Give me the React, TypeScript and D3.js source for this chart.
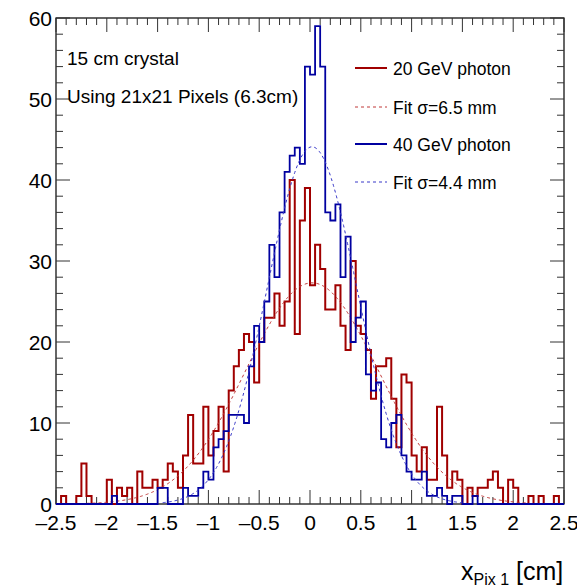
import React, { useEffect } from 'react';
import * as d3 from 'd3';

const X_MIN = -2.5;
const X_MAX = 2.5;
const N_BINS = 100;
const Y_MAX = 60;

const red20GeV = [
  0, 1, 0, 0, 1, 5, 1, 0, 0, 0,
  3, 0, 2, 1, 2, 0, 4, 2, 2, 3,
  2, 3, 5, 4, 2, 6, 11, 5, 5, 12,
  6, 9, 12, 4, 14, 17, 19, 21, 20, 15,
  20, 23, 23, 26, 22, 25, 40, 21, 35, 39,
  27, 32, 29, 24, 24, 27, 22, 19, 30, 22,
  21, 19, 13, 17, 17, 18, 13, 7, 16, 15,
  6, 4, 7, 3, 3, 12, 6, 2, 4, 3,
  0, 2, 1, 2, 2, 3, 4, 2, 0, 3,
  2, 0, 0, 1, 0, 1, 0, 0, 1, 0,
];

const blue40GeV = [
  0, 0, 0, 0, 0, 0, 0, 0, 0, 0,
  0, 1, 0, 0, 0, 0, 0, 0, 0, 0,
  2, 2, 0, 0, 0, 2, 1, 1, 2, 4,
  3, 7, 8, 9, 11, 11, 11, 10, 17, 22,
  20, 25, 32, 28, 36, 41, 43, 44, 42, 54,
  53, 59, 54, 36, 35, 37, 28, 33, 20, 23,
  25, 16, 14, 15, 8, 7, 10, 11, 6, 4,
  3, 3, 4, 1, 1, 2, 1, 0, 1, 1,
  0, 0, 1, 0, 0, 0, 0, 0, 0, 0,
  0, 0, 0, 0, 0, 0, 0, 0, 0, 0,
];

// Gaussian fit parameters [amplitude, mean (cm), sigma (cm)] and drawn range
const fitRed = [27.3, 0.02, 0.65];
const fitBlue = [44.1, 0.02, 0.44];
const fitRedRange = [-2.2, 2.15];
const fitBlueRange = [-1.45, 1.5];

const xMajorTicks = [-2.5, -2, -1.5, -1, -0.5, 0, 0.5, 1, 1.5, 2, 2.5];
const xTickLabels = ['\u20132.5', '\u20132', '\u20131.5', '\u20131', '\u20130.5', '0', '0.5', '1', '1.5', '2', '2.5'];
const yMajorTicks = [0, 10, 20, 30, 40, 50, 60];

const legendLabels = ['20 GeV photon', 'Fit \u03c3=6.5 mm', '40 GeV photon', 'Fit \u03c3=4.4 mm'];
const infoTexts = ['15 cm crystal', 'Using 21x21 Pixels (6.3cm)'];

const RED = '#a00000';
const BLUE = '#0000a0';
const RED_FIT = '#c03838';
const BLUE_FIT = '#3838c8';
const FONT = '"Liberation Sans", Arial, Helvetica, sans-serif';

export default function App() {
  useEffect(() => {
    document.body.style.margin = '0';
  }, []);

  const W = 577;
  const H = 587;
  const left = 56, right = 564, top = 18, bottom = 504;
  const x = d3.scaleLinear().domain([X_MIN, X_MAX]).range([left, right]);
  const y = d3.scaleLinear().domain([0, Y_MAX]).range([bottom, top]);
  const bw = (X_MAX - X_MIN) / N_BINS;

  const stepPath = (vals: number[]) => {
    let p = `M${x(X_MIN)},${y(0)}`;
    vals.forEach((v, i) => {
      const x0 = x(X_MIN + i * bw);
      const x1 = x(X_MIN + (i + 1) * bw);
      p += `L${x0},${y(v)}L${x1},${y(v)}`;
    });
    p += `L${x(X_MAX)},${y(0)}`;
    return p;
  };

  const gaus = (p: number[]) => (t: number) => p[0] * Math.exp(-0.5 * Math.pow((t - p[1]) / p[2], 2));
  const fitPath = (p: number[], range: number[]) => {
    const f = gaus(p);
    const pts = d3.range(range[0], range[1] + 1e-9, 0.01).map((t) => [t, f(t)] as [number, number]);
    return d3.line<[number, number]>().x((d) => x(d[0])).y((d) => y(d[1]))(pts) || '';
  };

  const xMinor = d3.range(0, 51).map((i) => X_MIN + i * 0.1);
  const yMinor = d3.range(0, 31).map((i) => i * 2);

  const tickColor = '#333';
  const majorLen = 14;
  const minorLen = 7;

  const legendRowsY = [68, 107, 144, 182];
  const legendColors = [RED, RED_FIT, BLUE, BLUE_FIT];
  const legendDashed = [false, true, false, true];

  return (
    <svg width={W} height={H} style={{ position: 'absolute', left: 0, top: 0, background: '#fff' }} fontFamily={FONT}>
      <rect x={0} y={0} width={W} height={H} fill="#fff" />
      {/* frame */}
      <rect x={left} y={top} width={right - left} height={bottom - top} fill="none" stroke="#000" strokeWidth={1.2} />
      {/* x ticks */}
      {xMinor.map((t, i) => {
        const isMajor = i % 5 === 0;
        const len = isMajor ? majorLen : minorLen;
        return (
          <g key={'xt' + i}>
            <line x1={x(t)} x2={x(t)} y1={bottom} y2={bottom - len} stroke={tickColor} strokeWidth={1} />
            <line x1={x(t)} x2={x(t)} y1={top} y2={top + len} stroke={tickColor} strokeWidth={1} />
          </g>
        );
      })}
      {/* y ticks */}
      {yMinor.map((t, i) => {
        const isMajor = i % 5 === 0;
        const len = isMajor ? majorLen : minorLen;
        return (
          <g key={'yt' + i}>
            <line x1={left} x2={left + len} y1={y(t)} y2={y(t)} stroke={tickColor} strokeWidth={1} />
            <line x1={right} x2={right - len} y1={y(t)} y2={y(t)} stroke={tickColor} strokeWidth={1} />
          </g>
        );
      })}
      {/* x labels */}
      {xMajorTicks.map((t, i) => (
        <text key={'xl' + i} x={x(t)} y={530} fontSize={21} textAnchor="middle" fill="#000">
          {xTickLabels[i]}
        </text>
      ))}
      {/* y labels */}
      {yMajorTicks.map((t, i) => (
        <text key={'yl' + i} x={52} y={y(t) + 7.5} fontSize={21} textAnchor="end" fill="#000">
          {String(t)}
        </text>
      ))}
      {/* x title */}
      <text x={461} y={580} fontSize={25} fill="#000">
        x<tspan fontSize={16} dy={5}>Pix 1</tspan>
        <tspan dy={-5} fontSize={25}> [cm]</tspan>
      </text>
      {/* info texts */}
      <text x={67} y={65} fontSize={19} fill="#000">{infoTexts[0]}</text>
      <text x={67} y={103} fontSize={19} fill="#000">{infoTexts[1]}</text>

      {/* histograms and fits */}
      <path d={stepPath(red20GeV)} fill="none" stroke={RED} strokeWidth={2} />
      <path d={fitPath(fitRed, fitRedRange)} fill="none" stroke={RED_FIT} strokeWidth={1} strokeDasharray="3,3" />
      <path d={stepPath(blue40GeV)} fill="none" stroke={BLUE} strokeWidth={1.8} />
      <path d={fitPath(fitBlue, fitBlueRange)} fill="none" stroke={BLUE_FIT} strokeWidth={1} strokeDasharray="3,3" />

      {/* legend */}
      {legendLabels.map((lab, i) => (
        <g key={'lg' + i}>
          <line x1={355} x2={387} y1={legendRowsY[i]} y2={legendRowsY[i]} stroke={legendColors[i]}
            strokeWidth={legendDashed[i] ? 1 : 2} strokeDasharray={legendDashed[i] ? '3,3' : undefined} />
          <text x={393} y={legendRowsY[i] + 7} fontSize={17.5} fill="#000">{lab}</text>
        </g>
      ))}
    </svg>
  );
}
